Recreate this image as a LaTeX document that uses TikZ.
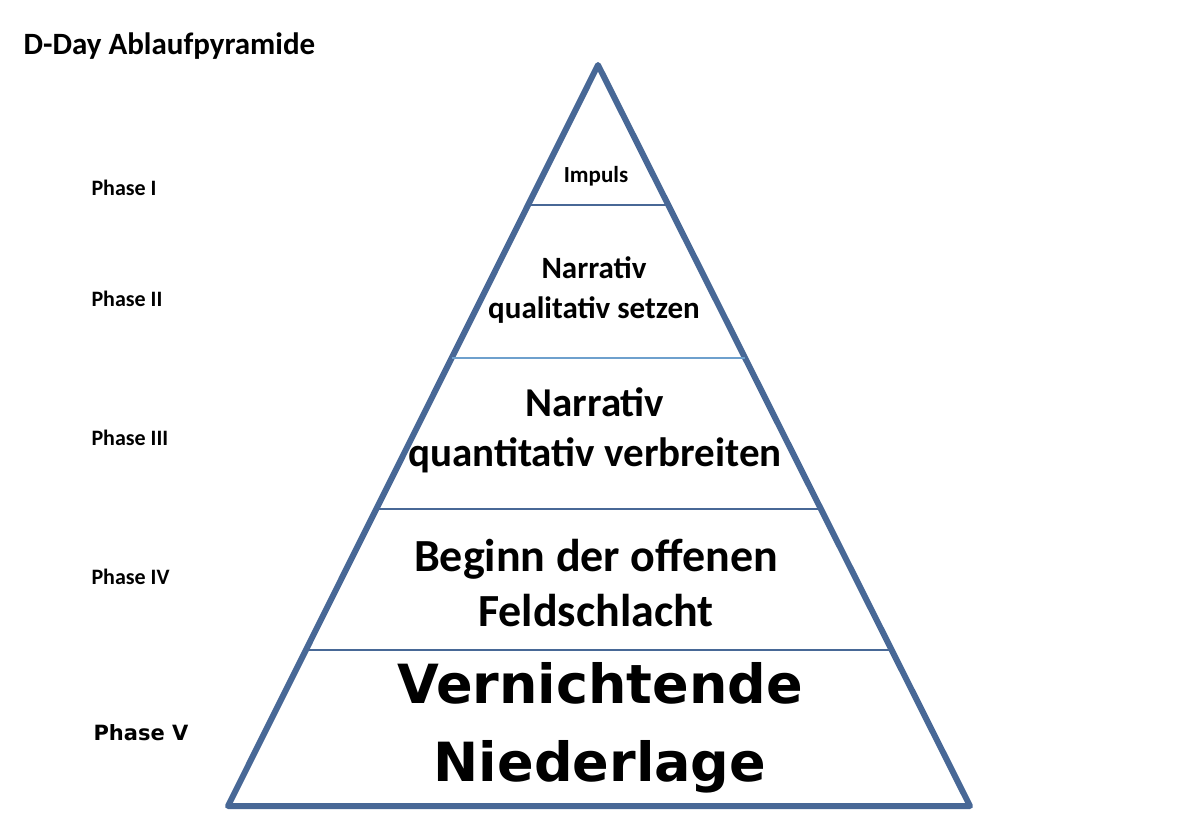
\documentclass[tikz,border=0pt]{standalone}
\usepackage{fontspec}
\setmainfont{Carlito}
\newfontfamily\heavy{DejaVu Sans}
\usetikzlibrary{calc}
\definecolor{pyr}{RGB}{72,104,150}
\definecolor{pyrlight}{RGB}{110,160,205}
\begin{document}
\begin{tikzpicture}[x=1pt,y=-1pt,
  lab/.style={font=\bfseries\fontsize{22}{24}\selectfont,anchor=west},
  txt/.style={font=\bfseries,align=center,text=black}]
\useasboundingbox (0,0) rectangle (1200,838);
\coordinate (A) at (598,65);
\coordinate (L) at (228,806);
\coordinate (R) at (970,806);
\draw[pyr,line width=6pt,line join=round] (A) -- (L) -- (R) -- cycle;
\foreach \y/\c in {205/pyr,358/pyrlight,509/pyr,650/pyr}{
  \pgfmathsetmacro{\t}{(\y-65)/741}
  \draw[\c,line width=2.5pt] ($(A)!\t!(L)$) -- ($(A)!\t!(R)$);
}
\node[font=\bfseries\fontsize{31}{34}\selectfont,anchor=west] (title) at (20,46) {D-Day Ablaufpyramide};
\node[lab] (p1) at (88,188) {Phase I};
\node[lab] (p2) at (88,299) {Phase II};
\node[lab] (p3) at (88,438) {Phase III};
\node[lab] (p4) at (88,577) {Phase IV};
\node[lab,font=\heavy\bfseries\fontsize{21}{24}\selectfont] (p5) at (90,733) {Phase V};
\node[txt,font=\bfseries\fontsize{23}{26}\selectfont] (t1) at (596,176) {Impuls};
\node[txt,font=\bfseries\fontsize{31}{40}\selectfont] (t2) at (594,290) {Narrativ\\qualitativ setzen};
\node[txt,font=\bfseries\fontsize{41}{50}\selectfont] (t3) at (595,430) {Narrativ\\quantitativ verbreiten};
\node[txt,font=\bfseries\fontsize{46}{55}\selectfont] (t4) at (596,583) {Beginn der offenen\\Feldschlacht};
\node[txt,font=\heavy\bfseries\fontsize{54}{78}\selectfont] (t5) at (600,728) {Vernichtende\\Niederlage};
\end{tikzpicture}
\end{document}
